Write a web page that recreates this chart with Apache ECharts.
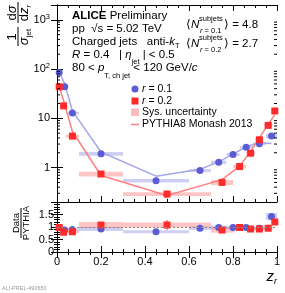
<!DOCTYPE html>
<html><head><meta charset="utf-8">
<script src="https://cdn.jsdelivr.net/npm/echarts/dist/echarts.min.js"></script>
<style>html,body{margin:0;padding:0;background:#fff}#c{width:285px;height:293px}</style>
</head><body><div id="c"></div><script>
// ---------- data: r = 0.1 ----------
const zB    = [0.01, 0.035, 0.07, 0.2, 0.45, 0.65, 0.735, 0.8, 0.86, 0.92, 0.975];
const loB   = [0, 0.02, 0.05, 0.1, 0.3, 0.6, 0.7, 0.77, 0.83, 0.89, 0.95];
const hiB   = [0.02, 0.05, 0.1, 0.3, 0.6, 0.7, 0.77, 0.83, 0.89, 0.95, 1.0];
const dataB = [85, 44, 12.8, 1.9, 0.54, 0.87, 1.28, 1.84, 2.6, 3.05, 4.36];
const pyB   = [88, 50, 14.2, 2.07, 0.67, 0.92, 1.31, 1.88, 2.65, 3.2, 3.07];
const ratB  = [0.97, 0.88, 0.9, 0.92, 0.81, 0.95, 0.98, 0.98, 0.98, 0.95, 1.42];
const sysB  = [0.06, 0.06, 0.06, 0.09, 0.08, 0.07, 0.08, 0.07, 0.06, 0.06, 0.10];
const statB = [0.02, 0.02, 0.03, 0.04, 0.05, 0.05, 0.05, 0.04, 0.03, 0.03, 0.04];
// ---------- data: r = 0.2 ----------
const zR    = [0.01, 0.03, 0.07, 0.2, 0.5, 0.75, 0.83, 0.88, 0.92, 0.96, 0.99];
const loR   = [0, 0.02, 0.04, 0.1, 0.3, 0.7, 0.8, 0.86, 0.9, 0.94, 0.98];
const hiR   = [0.02, 0.04, 0.1, 0.3, 0.7, 0.8, 0.86, 0.9, 0.94, 0.98, 1.0];
const dataR = [43.6, 17.9, 4.35, 0.74, 0.29, 0.50, 1.05, 1.96, 3.67, 7.2, 14.1];
const pyR   = [44.5, 22.7, 5.4, 0.69, 0.27, 0.57, 1.07, 2.13, 4.0, 7.6, 11.75];
const ratR  = [0.98, 0.79, 0.81, 1.08, 1.08, 0.88, 0.98, 0.92, 0.92, 0.95, 1.2];
const sysR  = [0.06, 0.07, 0.07, 0.11, 0.09, 0.12, 0.08, 0.07, 0.06, 0.06, 0.08];
const statR = [0.02, 0.03, 0.04, 0.06, 0.18, 0.15, 0.08, 0.05, 0.04, 0.03, 0.04];
// ---------- axes ----------
const xTicks = [0, 0.2, 0.4, 0.6, 0.8, 1];
const ratioTicks = [0, 0.5, 1, 1.5];
const logMin = 0.2, logMax = 2000;

const F = "'Liberation Sans', Arial, Helvetica, sans-serif";
const BLUE = '#5b5bd6', RED = '#ff2b2b';
const BLUE_L = 'rgba(110,110,220,0.33)', RED_L = 'rgba(255,80,80,0.33)';
const BLUE_LINE = '#a6a6ec', RED_LINE = '#ff8080';

function sysBoxes(xi, yi, lo, hi, val, rel, color) {
  return { type: 'custom', xAxisIndex: xi, yAxisIndex: yi, z: 1, silent: true,
    data: val.map((v, i) => [lo[i], hi[i], v * (1 - rel[i]), v * (1 + rel[i])]),
    encode: { x: [0, 1], y: [2, 3] },
    renderItem: (p, api) => {
      const a = api.coord([api.value(0), api.value(3)]);
      const b = api.coord([api.value(1), api.value(2)]);
      return { type: 'rect', shape: { x: a[0], y: a[1], width: b[0] - a[0], height: b[1] - a[1] }, style: { fill: color } };
    } };
}
function errBars(xi, yi, z, val, rel, color) {
  return { type: 'custom', xAxisIndex: xi, yAxisIndex: yi, z: 3, silent: true,
    data: val.map((v, i) => [z[i], v * (1 - rel[i]), v * (1 + rel[i])]),
    encode: { x: 0, y: [1, 2] },
    renderItem: (p, api) => {
      const a = api.coord([api.value(0), api.value(1)]);
      const b = api.coord([api.value(0), api.value(2)]);
      return { type: 'line', shape: { x1: a[0], y1: a[1], x2: b[0], y2: b[1] }, style: { stroke: color, lineWidth: 1 } };
    } };
}
function pts(xi, yi, z, val, sym, color) {
  return { type: 'scatter', xAxisIndex: xi, yAxisIndex: yi, z: 4, silent: true,
    symbol: sym, symbolSize: 7, itemStyle: { color: color, opacity: 1 },
    data: val.map((v, i) => [z[i], v]) };
}
function pyLine(z, val, color) {
  return { type: 'line', xAxisIndex: 0, yAxisIndex: 0, z: 2, silent: true, symbol: 'none',
    lineStyle: { color: color, width: 1.5 }, data: val.map((v, i) => [z[i], v]) };
}
const ratioB = dataB.map((d, i) => ratB[i]);
const ratioR = dataR.map((d, i) => ratR[i]);

// minor log ticks (axis decoration)
const logMinor = [];
for (let k = -1; k <= 3; k++) for (let m = 2; m <= 9; m++) {
  const v = m * Math.pow(10, k);
  if (v > logMin * 1.0001 && v < logMax * 0.9999) logMinor.push(v);
}
const minorSeries = { type: 'custom', xAxisIndex: 0, yAxisIndex: 0, z: 5, silent: true,
  data: logMinor.map(v => [0, v]), encode: { y: 1 },
  renderItem: (p, api) => {
    const a = api.coord([0, api.value(1)]);
    const b = api.coord([1, api.value(1)]);
    return { type: 'group', children: [
      { type: 'line', shape: { x1: a[0], y1: a[1], x2: a[0] + 3, y2: a[1] }, style: { stroke: '#000', lineWidth: 1 } },
      { type: 'line', shape: { x1: b[0], y1: b[1], x2: b[0] - 3, y2: b[1] }, style: { stroke: '#000', lineWidth: 1 } }
    ] };
  } };

const sup = { 2: '2', 3: '3' };
function logFmt(v) {
  const l = Math.log10(v); if (Math.abs(l - Math.round(l)) > 1e-6) return '';
  const e = Math.round(l);
  if (e === 0) return '{a|1}';
  if (e === 1) return '{a|10}';
  return '{a|10}{e|' + e + '}';
}

const lineBlack = { show: true, lineStyle: { color: '#000', width: 1 } };
function xAx(gi, pos, labels) {
  return { type: 'value', gridIndex: gi, position: pos, min: 0, max: 1, interval: 0.2,
    axisLine: lineBlack, splitLine: { show: false },
    axisTick: { show: true, inside: true, length: 6, lineStyle: { color: '#000' } },
    minorTick: { show: true, splitNumber: 4, length: 3, lineStyle: { color: '#000' } },
    axisLabel: { show: labels, margin: 4, fontSize: 11, fontFamily: F, color: '#000',
      formatter: v => (xTicks.indexOf(+v.toFixed(2)) >= 0 ? String(+v.toFixed(2)) : '') } };
}
function logAx(pos, labels) {
  return { type: 'log', logBase: 10, gridIndex: 0, position: pos, min: logMin, max: logMax,
    axisLine: lineBlack, splitLine: { show: false },
    axisTick: { show: true, inside: true, length: 6, lineStyle: { color: '#000' } },
    axisLabel: { show: labels, margin: 7, fontFamily: F, color: '#000', formatter: logFmt,
      rich: { a: { fontSize: 11, fontFamily: F, lineHeight: 14, verticalAlign: 'middle', color: '#000' },
              e: { fontSize: 7.5, fontFamily: F, lineHeight: 7, verticalAlign: 'top', color: '#000' } } } };
}
function ratAx(pos, labels) {
  return { type: 'value', gridIndex: 1, position: pos, min: 0, max: 2, interval: 0.5,
    axisLine: lineBlack, splitLine: { show: false },
    axisTick: { show: true, inside: true, length: 6, lineStyle: { color: '#000' } },
    minorTick: { show: true, splitNumber: 5, length: 3, lineStyle: { color: '#000' } },
    axisLabel: { show: labels, margin: 3, fontSize: 11, fontFamily: F, color: '#000', showMaxLabel: false,
      formatter: v => (ratioTicks.indexOf(v) >= 0 ? String(v) : '') } };
}

// ---------- text helpers ----------
const T = { fill: '#000', fontFamily: F };
function rt(L, sh) { // rich styles for line of height L
  return {
    n: { fontSize: 11.5, fontFamily: F, fill: '#000', lineHeight: L, verticalAlign: 'middle' },
    b: { fontSize: 11.5, fontFamily: F, fill: '#000', fontWeight: 'bold', lineHeight: L, verticalAlign: 'middle' },
    i: { fontSize: 11.5, fontFamily: F, fill: '#000', fontStyle: 'italic', lineHeight: L, verticalAlign: 'middle' },
    s: { fontSize: 7.5, fontFamily: F, fill: '#000', lineHeight: 8, verticalAlign: 'bottom' },
    si: { fontSize: 7.5, fontFamily: F, fill: '#000', fontStyle: 'italic', lineHeight: 8, verticalAlign: 'bottom' }
  };
}
function rtext(x, y, text, L, extra) {
  return Object.assign({ type: 'text', x: x, y: y, silent: true,
    style: { text: text, rich: rt(L), align: 'left', verticalAlign: 'middle', fontFamily: F, fontSize: 11.5, fill: '#000' } }, extra || {});
}
function small(x, y, text, align) {
  return { type: 'text', x: x, y: y, silent: true,
    style: { text: text, rich: { n: { fontSize: 7.5, fontFamily: F, fill: '#000' }, i: { fontSize: 7.5, fontFamily: F, fontStyle: 'italic', fill: '#000' } },
      align: align || 'left', verticalAlign: 'middle', fontFamily: F, fontSize: 7.5, fill: '#000' } };
}

const graphics = [
  rtext(72, 16, '{b|ALICE} {n|Preliminary}', 14),
  rtext(72, 29, '{n|pp  √}{n|s}{n| = 5.02 TeV}', 14),
  rtext(72, 42, '{n|Charged jets   anti-}{i|k}{s|T}', 16),
  rtext(72, 55, '{i|R}{n| = 0.4   | }{i|η}{s|jet}{n| | < 0.5}', 22),
  rtext(72, 68, '{n|80 < }{i|p}{s|T, ch jet}{n| < 120 GeV/}{i|c}', 24),
  // <N> annotations
  rtext(186, 25, '{n|⟨}{i|N}', 14), small(199, 19, '{n|subjets}'), small(200, 31, '{i|r}{n| = 0.1}'), rtext(224, 25, '{n|⟩ = 4.8}', 14),
  rtext(186, 44, '{n|⟨}{i|N}', 14), small(199, 38, '{n|subjets}'), small(200, 50, '{i|r}{n| = 0.2}'), rtext(224, 44, '{n|⟩ = 2.7}', 14),
  // legend
  { type: 'circle', shape: { cx: 135, cy: 89, r: 3.5 }, style: { fill: BLUE }, silent: true },
  rtext(142, 89, '{i|r}{n| = 0.1}', 14, { style: { text: '{i|r}{n| = 0.1}', rich: Object.assign(rt(14), { n: { fontSize: 10.5, fontFamily: F, fill: '#000' }, i: { fontSize: 10.5, fontFamily: F, fontStyle: 'italic', fill: '#000' } }), align: 'left', verticalAlign: 'middle' } }),
  { type: 'rect', shape: { x: 131.5, y: 97.5, width: 7, height: 7 }, style: { fill: RED }, silent: true },
  rtext(142, 101, '', 14, { style: { text: '{i|r}{n| = 0.2}', rich: { n: { fontSize: 10.5, fontFamily: F, fill: '#000' }, i: { fontSize: 10.5, fontFamily: F, fontStyle: 'italic', fill: '#000' } }, align: 'left', verticalAlign: 'middle' } }),
  { type: 'rect', shape: { x: 131, y: 108.5, width: 8, height: 7.5 }, style: { fill: 'rgba(255,120,120,0.5)' }, silent: true },
  { type: 'text', x: 142, y: 112.5, silent: true, style: { text: 'Sys. uncertainty', fontSize: 10.5, fontFamily: F, fill: '#000', align: 'left', verticalAlign: 'middle' } },
  { type: 'line', shape: { x1: 131, y1: 124.5, x2: 139, y2: 124.5 }, style: { stroke: RED_LINE, lineWidth: 1.5 }, silent: true },
  { type: 'text', x: 142, y: 124.5, silent: true, style: { text: 'PYTHIA8 Monash 2013', fontSize: 10.5, fontFamily: F, fill: '#000', align: 'left', verticalAlign: 'middle' } },
  // y title (top)
  { type: 'group', x: 18, y: 52, rotation: Math.PI / 2, silent: true, children: [
    { type: 'text', x: 15, y: -5.5, style: { text: '1', fontSize: 13, fontFamily: F, fill: '#000', align: 'center', verticalAlign: 'middle' } },
    { type: 'line', shape: { x1: 6, y1: 0, x2: 25, y2: 0 }, style: { stroke: '#000', lineWidth: 1 } },
    { type: 'text', x: 15, y: 6.5, style: { text: '{g|σ}{s|jet}', align: 'center', verticalAlign: 'middle',
        rich: { g: { fontSize: 13, fontFamily: F, fontStyle: 'italic', fill: '#000', lineHeight: 16, verticalAlign: 'middle' }, s: { fontSize: 8, fontFamily: F, fill: '#000', lineHeight: 8, verticalAlign: 'bottom' } } } },
    { type: 'text', x: 39, y: -5.5, style: { text: '{n|d}{g|σ}', align: 'center', verticalAlign: 'middle',
        rich: { n: { fontSize: 13, fontFamily: F, fill: '#000' }, g: { fontSize: 13, fontFamily: F, fontStyle: 'italic', fill: '#000' } } } },
    { type: 'line', shape: { x1: 29, y1: 0, x2: 50, y2: 0 }, style: { stroke: '#000', lineWidth: 1 } },
    { type: 'text', x: 39, y: 6.5, style: { text: '{n|d}{g|z}{s|r}', align: 'center', verticalAlign: 'middle',
        rich: { n: { fontSize: 13, fontFamily: F, fill: '#000', lineHeight: 16, verticalAlign: 'middle' }, g: { fontSize: 13, fontFamily: F, fontStyle: 'italic', fill: '#000', lineHeight: 16, verticalAlign: 'middle' }, s: { fontSize: 8, fontFamily: F, fontStyle: 'italic', fill: '#000', lineHeight: 8, verticalAlign: 'bottom' } } } }
  ] },
  // ratio title
  { type: 'group', x: 21, y: 223, rotation: Math.PI / 2, silent: true, children: [
    { type: 'text', x: 0, y: -5, style: { text: 'Data', fontSize: 9.5, fontFamily: F, fill: '#000', align: 'center', verticalAlign: 'middle' } },
    { type: 'line', shape: { x1: -15, y1: 0, x2: 15, y2: 0 }, style: { stroke: '#000', lineWidth: 1 } },
    { type: 'text', x: 0, y: 5.5, style: { text: 'PYTHIA', fontSize: 9.5, fontFamily: F, fill: '#000', align: 'center', verticalAlign: 'middle' } }
  ] },
  // x title
  { type: 'text', x: 277, y: 277, silent: true, style: { text: '{g|z}{s|r}', align: 'right', verticalAlign: 'middle',
      rich: { g: { fontSize: 15, fontFamily: F, fontStyle: 'italic', fill: '#000', lineHeight: 18, verticalAlign: 'middle' }, s: { fontSize: 9, fontFamily: F, fontStyle: 'italic', fill: '#000', lineHeight: 9, verticalAlign: 'bottom' } } } },
  // watermark
  { type: 'text', x: 2, y: 288, silent: true, style: { text: 'ALI-PREL-490650', fontSize: 5.5, fontFamily: F, fill: '#999', align: 'left', verticalAlign: 'middle' } }
];

const chart = echarts.init(document.getElementById('c'), null, { renderer: 'canvas' });
chart.setOption({
  animation: false,
  backgroundColor: '#fff',
  grid: [
    { left: 57, top: 5, width: 220, height: 197 },
    { left: 57, top: 202, width: 220, height: 50 }
  ],
  xAxis: [xAx(0, 'bottom', false), xAx(0, 'top', false), xAx(1, 'bottom', true), xAx(1, 'top', false)],
  yAxis: [logAx('left', true), logAx('right', false), ratAx('left', true), ratAx('right', false)],
  series: [
    sysBoxes(0, 0, loB, hiB, dataB, sysB, BLUE_L),
    sysBoxes(0, 0, loR, hiR, dataR, sysR, RED_L),
    pyLine(zB, pyB, BLUE_LINE),
    pyLine(zR, pyR, RED_LINE),
    errBars(0, 0, zB, dataB, statB, BLUE),
    errBars(0, 0, zR, dataR, statR, RED),
    pts(0, 0, zB, dataB, 'circle', BLUE),
    pts(0, 0, zR, dataR, 'rect', RED),
    minorSeries,
    // ratio panel
    sysBoxes(2, 2, loB, hiB, ratioB, sysB, BLUE_L),
    sysBoxes(2, 2, loR, hiR, ratioR, sysR, RED_L),
    errBars(2, 2, zB, ratioB, statB, BLUE),
    errBars(2, 2, zR, ratioR, statR, RED),
    Object.assign(pts(2, 2, zB, ratioB, 'circle', BLUE), {
      markLine: { silent: true, symbol: 'none', animation: false, label: { show: false },
        lineStyle: { type: [2, 2], color: '#888', width: 1 }, data: [{ yAxis: 1 }] } }),
    pts(2, 2, zR, ratioR, 'rect', RED)
  ],
  graphic: graphics
});
</script></body></html>
